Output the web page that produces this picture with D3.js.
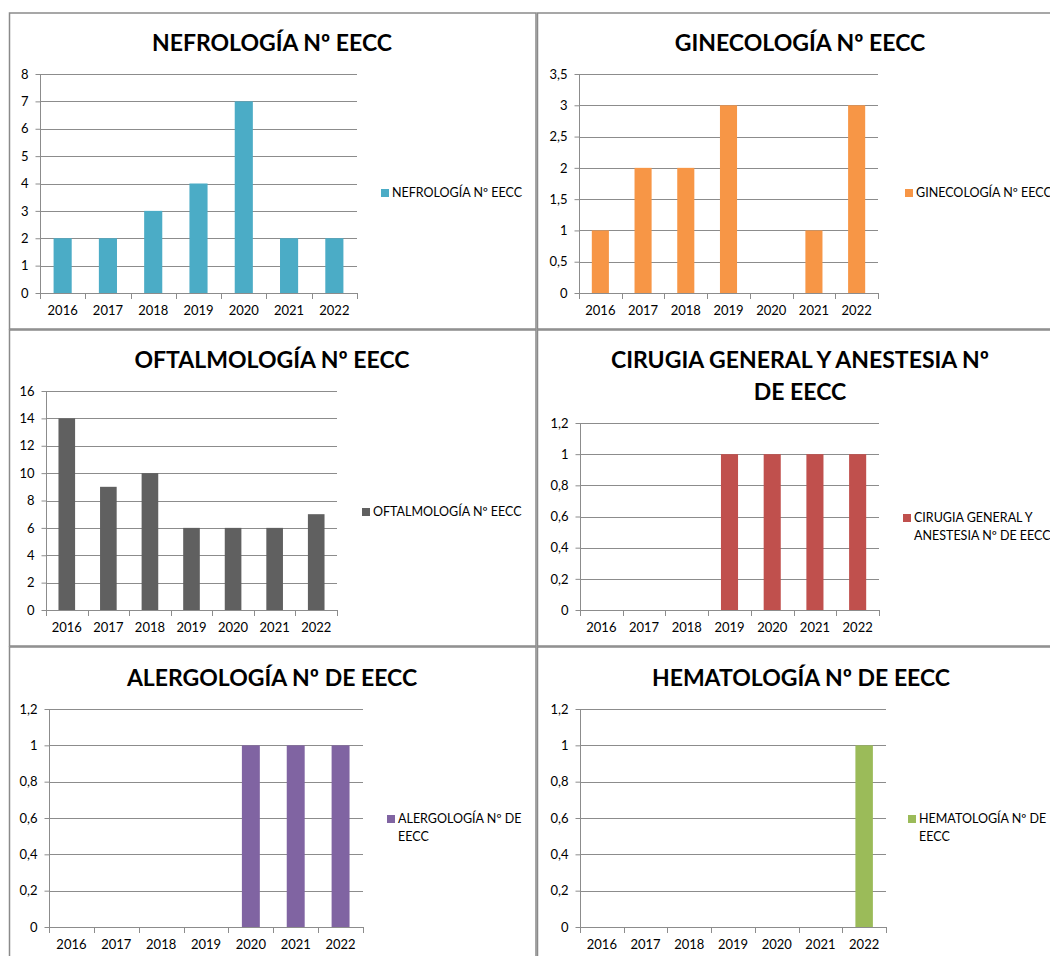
<!DOCTYPE html>
<html><head><meta charset="utf-8">
<script src="https://cdn.jsdelivr.net/npm/d3@7"></script>
<style>
html,body{margin:0;padding:0;background:#fff;}
svg{display:block;font-family:Lato,"Noto Sans",sans-serif;}
</style></head>
<body>
<svg id="c" width="1050" height="956"></svg>
<script>
const years = ["2016","2017","2018","2019","2020","2021","2022"];

const nefrologia = [2,2,3,4,7,2,2];
const ginecologia = [1,2,2,3,0,1,3];
const oftalmologia = [14,9,10,6,6,6,7];
const cirugia = [0,0,0,1,1,1,1];
const alergologia = [0,0,0,0,1,1,1];
const hematologia = [0,0,0,0,0,0,1];

const ticksNefro = [0,1,2,3,4,5,6,7,8];
const ticksGine = [0,0.5,1,1.5,2,2.5,3,3.5];
const ticksOftal = [0,2,4,6,8,10,12,14,16];
const ticksUnit = [0,0.2,0.4,0.6,0.8,1,1.2];

const titles = {
  nefro: ["NEFROLOGÍA Nº EECC"],
  gine: ["GINECOLOGÍA Nº EECC"],
  oftal: ["OFTALMOLOGÍA Nº EECC"],
  cir: ["CIRUGIA GENERAL Y ANESTESIA Nº","DE EECC"],
  aler: ["ALERGOLOGÍA Nº DE EECC"],
  hema: ["HEMATOLOGÍA Nº DE EECC"]
};
const legends = {
  nefro: ["NEFROLOGÍA Nº EECC"],
  gine: ["GINECOLOGÍA Nº EECC"],
  oftal: ["OFTALMOLOGÍA Nº EECC"],
  cir: ["CIRUGIA GENERAL Y","ANESTESIA Nº DE EECC"],
  aler: ["ALERGOLOGÍA Nº DE","EECC"],
  hema: ["HEMATOLOGÍA Nº DE","EECC"]
};

const svg = d3.select("#c");
const fmt = v => String(v).replace(".", ",");

const panels = [
  {key:"nefro", data:nefrologia, ticks:ticksNefro, max:8, color:"#4BACC6",
   box:[9.5,13,536,329], x0:40, x1:357, y0:293, y1:74, tcx:272, ty:[51], lx:381, ly:193},
  {key:"gine", data:ginecologia, ticks:ticksGine, max:3.5, color:"#F79646",
   box:[537.5,13,1070,329], x0:579, x1:878, y0:293, y1:74, tcx:800, ty:[51], lx:905, ly:193},
  {key:"oftal", data:oftalmologia, ticks:ticksOftal, max:16, color:"#606060",
   box:[9.5,330,536,646], x0:46, x1:337, y0:610, y1:391, tcx:272, ty:[368], lx:362, ly:512},
  {key:"cir", data:cirugia, ticks:ticksUnit, max:1.2, color:"#C0504D",
   box:[537.5,330,1070,646], x0:580, x1:879, y0:610, y1:423, tcx:800, ty:[368,400], lx:903, ly:518},
  {key:"aler", data:alergologia, ticks:ticksUnit, max:1.2, color:"#8064A2",
   box:[9.5,647,536,980], x0:49, x1:363, y0:927, y1:709, tcx:272, ty:[686], lx:387, ly:819},
  {key:"hema", data:hematologia, ticks:ticksUnit, max:1.2, color:"#9BBB59",
   box:[537.5,647,1070,980], x0:580, x1:886, y0:927, y1:709, tcx:801, ty:[686], lx:908, ly:819}
];

panels.forEach(p => {
  const g = svg.append("g");
  const [bx0,by0,bx1,by1] = p.box;
  g.append("rect").attr("x",bx0).attr("y",by0).attr("width",bx1-bx0).attr("height",by1-by0)
    .attr("fill","#fff").attr("stroke","#8a8a8a").attr("stroke-width",1.5);

  const x = d3.scaleBand().domain(years).range([p.x0,p.x1]).paddingInner(0.6).paddingOuter(0.3);
  const y = d3.scaleLinear().domain([0,p.max]).range([p.y0,p.y1]);

  g.append("g").selectAll("line").data(p.ticks.filter(t=>t>0)).join("line")
    .attr("x1",p.x0).attr("x2",p.x1).attr("y1",d=>Math.round(y(d))+0.5).attr("y2",d=>Math.round(y(d))+0.5)
    .attr("stroke","#8c8c8c").attr("stroke-width",1);

  const ya = d3.axisLeft(y).tickValues(p.ticks).tickFormat(fmt).tickSize(5).tickPadding(7);
  const yg = g.append("g").attr("transform",`translate(${p.x0+0.5},0)`).call(ya);
  yg.select(".domain").attr("stroke","#8c8c8c").attr("d",`M0,${p.y0}V${p.y1}`);
  yg.selectAll(".tick line").attr("stroke","#8c8c8c");
  yg.selectAll(".tick text").attr("fill","#000").style("font-size","13px").style("font-family","Lato,'Noto Sans',sans-serif");

  g.append("g").selectAll("rect").data(p.data).join("rect")
    .attr("x",(d,i)=>x(years[i])).attr("width",x.bandwidth())
    .attr("y",d=>y(d)).attr("height",d=>p.y0-y(d)).attr("fill",p.color);

  const xa = d3.axisBottom(x).tickSize(0).tickPadding(12);
  const xg = g.append("g").attr("transform",`translate(0,${p.y0+0.5})`).call(xa);
  xg.select(".domain").attr("stroke","#8c8c8c").attr("d",`M${p.x0},0H${p.x1}`);
  xg.selectAll(".tick text").attr("fill","#000").style("font-size","13px").style("font-family","Lato,'Noto Sans',sans-serif");
  const step = x.step();
  g.append("g").selectAll("line").data(d3.range(years.length+1)).join("line")
    .attr("x1",i=>Math.round(p.x0+i*step)+0.5).attr("x2",i=>Math.round(p.x0+i*step)+0.5)
    .attr("y1",p.y0).attr("y2",p.y0+6).attr("stroke","#8c8c8c");

  const t = g.append("text").attr("text-anchor","middle").attr("fill","#000")
    .style("font-weight","bold").style("font-size","23px");
  titles[p.key].forEach((line,i)=>{
    t.append("tspan").attr("x",p.tcx).attr("y",p.ty[i]).text(line);
  });

  g.append("rect").attr("x",p.lx).attr("y",p.ly-4).attr("width",8).attr("height",8).attr("fill",p.color);
  const lt = g.append("text").attr("fill","#000").style("font-size","12.5px");
  legends[p.key].forEach((line,i)=>{
    lt.append("tspan").attr("x",p.lx+11).attr("y",p.ly+i*18).attr("dy","0.35em").text(line);
  });
});
</script>
</body></html>
